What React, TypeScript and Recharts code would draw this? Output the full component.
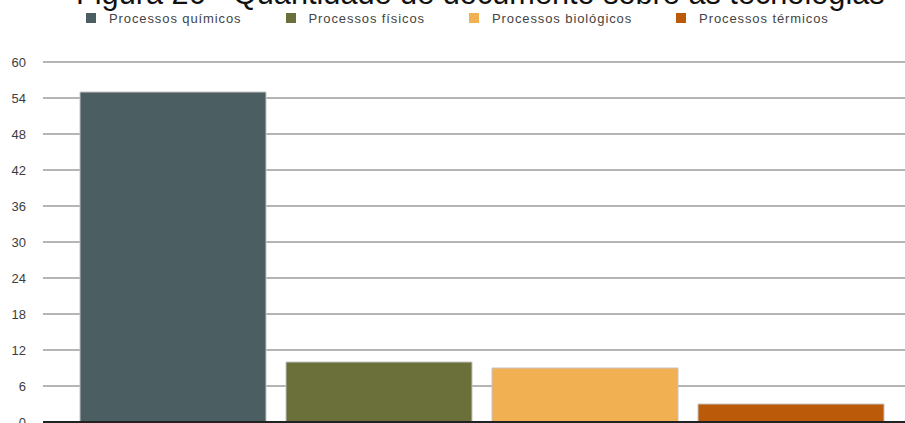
import { BarChart, Bar, XAxis, YAxis, CartesianGrid, ReferenceLine } from 'recharts'

const categories = ['Tecnologias']
const seriesNames = ['Processos químicos', 'Processos físicos', 'Processos biológicos', 'Processos térmicos']
const seriesValues = [55, 10, 9, 3]
const yTicks = [0, 6, 12, 18, 24, 30, 36, 42, 48, 54, 60]
const title = 'Figura 26 - Quantidade de documento sobre as tecnologias'

const colors = ['#4b5f62', '#6b703b', '#f1b052', '#bb5a08']
const font = '"Liberation Sans", Arial, Helvetica, sans-serif'

const chartData = categories.map((name) => {
  const row: Record<string, string | number> = { name }
  seriesNames.forEach((_, i) => { row[`s${i}`] = seriesValues[i] })
  return row
})

export default function App() {
  return (
    <div style={{ position: 'fixed', left: 0, top: 0, width: 905, height: 423, overflow: 'hidden', background: '#fff', fontFamily: font }}>
      <svg width={905} height={30} style={{ position: 'absolute', left: 0, top: 0 }}>
        <text x={76} y={4} fontSize={30.7} fontFamily={font} fill="#111">{title}</text>
      </svg>
      <div style={{ position: 'absolute', left: 86, top: 12, height: 12, display: 'flex', alignItems: 'center', gap: 44 }}>
        {seriesNames.map((n, i) => (
          <span key={n} style={{ display: 'flex', alignItems: 'center' }}>
            <span style={{ width: 10, height: 10, background: colors[i], marginRight: 13 }} />
            <span style={{ fontSize: 13, letterSpacing: 0.9, color: '#444', whiteSpace: 'nowrap' }}>{n}</span>
          </span>
        ))}
      </div>
      <div style={{ position: 'absolute', left: 0, top: 0 }}>
        <BarChart width={930} height={440} data={chartData} margin={{ top: 62, right: 10, bottom: 18, left: 0 }}
          barCategoryGap={37} barGap={20}>
          <CartesianGrid vertical={false} stroke="#b5b5b5" strokeWidth={2} />
          <XAxis dataKey="name" hide />
          <YAxis width={43} domain={[0, 60]} ticks={yTicks} interval={0} axisLine={false} tickLine={false} tickMargin={11}
            tick={{ fontSize: 13, fill: '#3d3d3d', fontFamily: font }} />
          {seriesNames.map((n, i) => (
            <Bar key={n} dataKey={`s${i}`} name={n} fill={colors[i]} stroke="#c4c4c4" strokeWidth={1} isAnimationActive={false} />
          ))}
          <ReferenceLine y={0} stroke="#222" strokeWidth={2} />
        </BarChart>
      </div>
    </div>
  )
}
